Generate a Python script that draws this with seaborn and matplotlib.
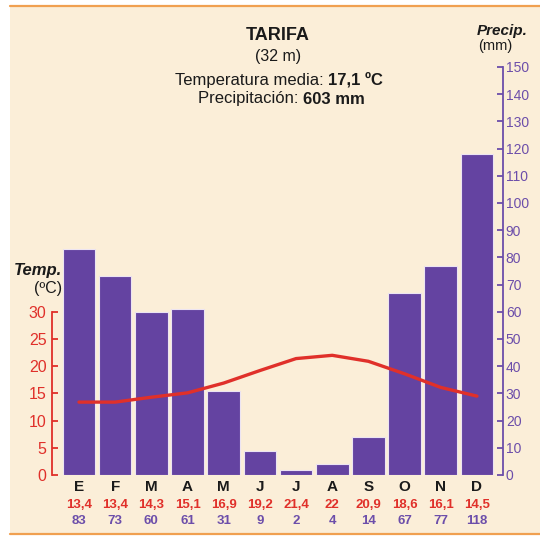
import matplotlib
matplotlib.use('Agg')
import matplotlib.pyplot as plt
import matplotlib.transforms as mtransforms
from matplotlib.patches import Rectangle
import seaborn as sns
import numpy as np
import pandas as pd

# Climograma de Tarifa
months = ['E', 'F', 'M', 'A', 'M', 'J', 'J', 'A', 'S', 'O', 'N', 'D']
temp = [13.4, 13.4, 14.3, 15.1, 16.9, 19.2, 21.4, 22, 20.9, 18.6, 16.1, 14.5]
precip = [83, 73, 60, 61, 31, 9, 2, 4, 14, 67, 77, 118]
temp_ticks = [0, 5, 10, 15, 20, 25, 30]
precip_ticks = list(range(0, 151, 10))

BG = '#fbeed8'
BAR = '#6443a1'
PURPLE = '#6c4eaa'
RED = '#e0302a'
ORANGE = '#f0a050'
INK = '#1a1a1a'

sns.set_style('white')
plt.rcParams['font.family'] = ['Liberation Sans', 'DejaVu Sans']

fig = plt.figure(figsize=(5.40, 5.36), dpi=100)
fig.patch.set_facecolor('white')
# cream panel with orange rules
fig.patches.append(Rectangle((10 / 540, 2 / 536), 530 / 540, 528 / 536, transform=fig.transFigure,
                             facecolor=BG, edgecolor='none', zorder=-10))
fig.add_artist(plt.Line2D([10 / 540, 1], [1 - 6 / 536] * 2, color=ORANGE, lw=1.6))
fig.add_artist(plt.Line2D([10 / 540, 1], [2 / 536] * 2, color=ORANGE, lw=1.6))

ax = fig.add_axes([52 / 540, 61 / 536, 451 / 540, 408 / 536])
ax.set_facecolor('none')

df = pd.DataFrame({'pos': np.arange(12), 'precip': precip, 'temp': temp})
sns.barplot(data=df, x='pos', y='precip', ax=ax, color=BAR, saturation=1, width=0.9,
            edgecolor='#ece4f2', linewidth=0.8, native_scale=True)

# temperature axis (1 ºC = 2 mm), drawn above the bars
ax2 = ax.twinx()
sns.lineplot(data=df, x='pos', y='temp', ax=ax2, color=RED, linewidth=2.4)

for a in (ax, ax2):
    a.set_xlim(-0.746, 11.72)
    a.set_xlabel('')
    a.set_ylabel('')
    a.set_xticks([])
    for s in ['top', 'bottom', 'left', 'right']:
        a.spines[s].set_visible(False)

# precipitation axis on the right
ax.set_ylim(0, 150)
ax.yaxis.tick_right()
ax.set_yticks(precip_ticks)
ax.tick_params(axis='y', which='both', left=False, labelleft=False, right=True, labelright=True,
               direction='in', length=4, width=1.3, color=PURPLE,
               labelcolor=PURPLE, labelsize=10, pad=2)
ax.spines['right'].set_visible(True)
ax.spines['right'].set_color(PURPLE)
ax.spines['right'].set_linewidth(1.3)

# temperature axis on the left
ax2.set_ylim(0, 75)
ax2.yaxis.tick_left()
ax2.set_yticks(temp_ticks)
ax2.tick_params(axis='y', which='both', right=False, labelright=False, left=True, labelleft=True,
                direction='in', length=4, width=1.3, color=RED,
                labelcolor=RED, labelsize=11.5, pad=4)
ax2.spines['left'].set_visible(True)
ax2.spines['left'].set_color(RED)
ax2.spines['left'].set_linewidth(1.3)
ax2.spines['left'].set_bounds(0, 30)

# month labels and values under the bars
tr = mtransforms.blended_transform_factory(ax.transData, fig.transFigure)
for i, m in enumerate(months):
    ax.text(i, 1 - 487 / 536, m, transform=tr, ha='center', va='center',
            fontsize=11, fontweight='bold', color=INK)
    ax.text(i, 1 - 505 / 536, f'{temp[i]:g}'.replace('.', ','), transform=tr, ha='center',
            va='center', fontsize=9.5, fontweight='bold', color=RED)
    ax.text(i, 1 - 521 / 536, str(precip[i]), transform=tr, ha='center', va='center',
            fontsize=9.5, fontweight='bold', color=PURPLE)

# axis titles
fig.text(62 / 540, 1 - 270 / 536, 'Temp.', ha='right', va='center', fontsize=12,
         fontweight='bold', fontstyle='italic', color=INK)
fig.text(62 / 540, 1 - 289 / 536, '(ºC)', ha='right', va='center', fontsize=11.5, color=INK)
fig.text(477 / 540, 1 - 31 / 536, 'Precip.', ha='left', va='center', fontsize=11,
         fontweight='bold', fontstyle='italic', color=INK)
fig.text(478 / 540, 1 - 46 / 536, '(mm)', ha='left', va='center', fontsize=10.5, color=INK)

# title block
fig.text(278 / 540, 1 - 35 / 536, 'TARIFA', ha='center', va='center', fontsize=13,
         fontweight='bold', color=INK)
fig.text(278 / 540, 1 - 57 / 536, '(32 m)', ha='center', va='center', fontsize=11.5, color=INK)

# lines with a regular part and a bold part, centred together
renderer = fig.canvas.get_renderer()
for plain, bold, y, xc in [('Temperatura media: ', '17,1 ºC', 80, 279),
                           ('Precipitación: ', '603 mm', 99, 281)]:
    ta = fig.text(0, 1 - y / 536, plain, ha='left', va='center', fontsize=12, color=INK)
    tb = fig.text(0, 1 - y / 536, bold, ha='left', va='center', fontsize=12,
                  fontweight='bold', color=INK)
    wa = ta.get_window_extent(renderer).width
    wb = tb.get_window_extent(renderer).width
    x0 = xc - (wa + wb) / 2
    ta.set_x(x0 / 540)
    tb.set_x((x0 + wa) / 540)

fig.savefig('out.png', dpi=100, facecolor=fig.get_facecolor())
